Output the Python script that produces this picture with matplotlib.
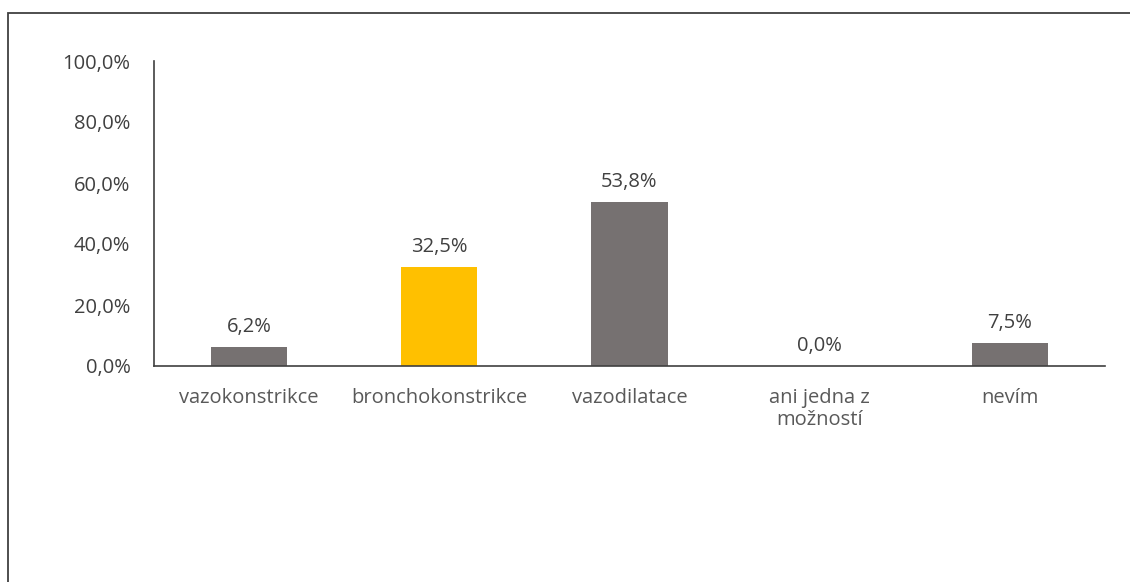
import matplotlib.pyplot as plt
from matplotlib.patches import Rectangle

categories = ['vazokonstrikce', 'bronchokonstrikce', 'vazodilatace', 'ani jedna z\nmožností', 'nevím']
values = [6.2, 32.5, 53.8, 0.0, 7.5]
colors = ['#767171', '#FFC000', '#767171', '#767171', '#767171']
yticks = [0, 20, 40, 60, 80, 100]

plt.rcParams['font.family'] = ['Open Sans', 'DejaVu Sans']
text_color = '#595959'
fs = 14.5

fig = plt.figure(figsize=(11.3, 5.82), dpi=100)
ax = fig.add_axes([154 / 1130, 1 - 366 / 582, (1105 - 154) / 1130, (366 - 61) / 582])

x = range(len(categories))
bars = ax.bar(x, values, width=0.4, color=colors)
for xi, v in zip(x, values):
    ax.annotate(f'{v:.1f}%'.replace('.', ','), (xi, v), xytext=(0, 11), textcoords='offset points',
                ha='center', va='baseline', fontsize=fs, color='#404040')

ax.set_xlim(-0.5, len(categories) - 0.5)
ax.set_ylim(0, 100)
ax.set_yticks(yticks)
ax.set_yticklabels([f'{t:.1f}%'.replace('.', ',') for t in yticks], fontsize=fs, color='#404040')
ax.set_xticks(list(x))
ax.set_xticklabels(categories, fontsize=fs, color=text_color, linespacing=1.15)
ax.tick_params(axis='both', length=0)
ax.tick_params(axis='y', pad=17)
ax.tick_params(axis='x', pad=16)
for s in ['top', 'right']:
    ax.spines[s].set_visible(False)
ax.spines['left'].set_color('#404040')
ax.spines['bottom'].set_color('#404040')
ax.spines['left'].set_linewidth(1.2)
ax.spines['bottom'].set_linewidth(1.2)

# chart border
fig.patches.append(Rectangle((8 / 1130, -0.1), 1.2, 1 - 13 / 582 + 0.1, transform=fig.transFigure,
                             fill=False, edgecolor='#404040', linewidth=1.3))

fig.savefig('out.png', dpi=100)
